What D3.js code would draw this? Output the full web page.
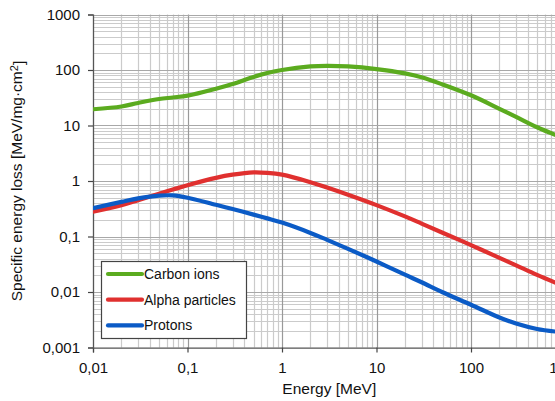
<!DOCTYPE html>
<html>
<head>
<meta charset="utf-8">
<script src="https://cdn.jsdelivr.net/npm/d3@7"></script>
<style>
  html, body { margin: 0; padding: 0; background: #fff; }
  svg { display: block; font-family: "Liberation Sans", Arial, sans-serif; }
</style>
</head>
<body>
<svg id="chart" width="555" height="401"></svg>
<script>
// ---- data ----
const energy  = [0.01, 0.02, 0.03, 0.05, 0.07, 0.1, 0.2, 0.3, 0.5, 0.7, 1, 2, 3, 5, 10, 20, 30, 50, 100, 200, 300, 500, 800];
const carbon  = [19.6, 22, 25.5, 30, 32, 34.5, 46, 56, 75, 88, 100, 116, 119, 116, 104, 87, 74, 55, 35, 20, 14.3, 9.3, 6.7];
const alpha   = [0.28, 0.365, 0.45, 0.59, 0.70, 0.84, 1.14, 1.30, 1.43, 1.40, 1.30, 0.953, 0.762, 0.566, 0.368, 0.23, 0.171, 0.117, 0.07, 0.0412, 0.0302, 0.0203, 0.0145];
const protons = [0.324, 0.42, 0.485, 0.545, 0.55, 0.5, 0.372, 0.313, 0.248, 0.212, 0.178, 0.116, 0.087, 0.06, 0.0355, 0.0205, 0.015, 0.0099, 0.0059, 0.00347, 0.00271, 0.00216, 0.00193];
const seriesNames = ["Carbon ions", "Alpha particles", "Protons"];
const seriesColors = ["#5bab1f", "#e0302f", "#0b5bc6"];
const xTickValues = [0.01, 0.1, 1, 10, 100, 1000];
const xTickLabels = ["0,01", "0,1", "1", "10", "100", "1000"];
const yTickValues = [0.001, 0.01, 0.1, 1, 10, 100, 1000];
const yTickLabels = ["0,001", "0,01", "0,1", "1", "10", "100", "1000"];
const xTitle = "Energy [MeV]";
const yTitleMain = "Specific energy loss [MeV/mg·cm";
const yTitleSup = "2";
const yTitleEnd = "]";

// ---- layout ----
const svg = d3.select("#chart");
const pL = 93, pR = 565.5, pT = 14.5, pB = 347.5;

const x = d3.scaleLog().domain([0.01, 1000]).range([pL, pR]);
const y = d3.scaleLog().domain([0.001, 1000]).range([pB, pT]);

// grid
const xMinor = x.ticks().filter(v => !xTickValues.some(t => Math.abs(t - v) / t < 1e-9));
const yMinor = y.ticks().filter(v => !yTickValues.some(t => Math.abs(t - v) / t < 1e-9));

const grid = svg.append("g");
grid.append("g").selectAll("line").data(xMinor).join("line")
  .attr("x1", d => Math.round(x(d)) + 0.5).attr("x2", d => Math.round(x(d)) + 0.5)
  .attr("y1", pT).attr("y2", pB)
  .attr("stroke", "#cbcbcb").attr("stroke-width", 1.2);
grid.append("g").selectAll("line").data(yMinor).join("line")
  .attr("y1", d => Math.round(y(d)) + 0.5).attr("y2", d => Math.round(y(d)) + 0.5)
  .attr("x1", pL).attr("x2", pR)
  .attr("stroke", "#cbcbcb").attr("stroke-width", 1.2);
grid.append("g").selectAll("line").data(xTickValues).join("line")
  .attr("x1", d => Math.round(x(d)) + 0.5).attr("x2", d => Math.round(x(d)) + 0.5)
  .attr("y1", pT).attr("y2", pB)
  .attr("stroke", "#999").attr("stroke-width", 1.2);
grid.append("g").selectAll("line").data(yTickValues).join("line")
  .attr("y1", d => Math.round(y(d)) + 0.5).attr("y2", d => Math.round(y(d)) + 0.5)
  .attr("x1", pL).attr("x2", pR)
  .attr("stroke", "#a8a8a8").attr("stroke-width", 1.2);

// axes
const xAxis = d3.axisBottom(x).tickValues(xTickValues)
  .tickFormat((d, i) => xTickLabels[i]).tickSize(5).tickPadding(6);
const yAxis = d3.axisLeft(y).tickValues(yTickValues)
  .tickFormat((d, i) => yTickLabels[i]).tickSize(5).tickPadding(8);

const gx = svg.append("g").attr("transform", `translate(0,${pB})`).call(xAxis);
const gy = svg.append("g").attr("transform", `translate(${pL},0)`).call(yAxis);
[gx, gy].forEach(g => {
  g.select(".domain").attr("stroke", "#555").attr("stroke-width", 1.2);
  g.selectAll(".tick line").attr("stroke", "#444").attr("stroke-width", 1.2);
  g.selectAll(".tick text").attr("fill", "#111").style("font-size", "15px")
    .style("font-family", '"Liberation Sans", Arial, sans-serif');
});
gx.selectAll(".tick text").attr("dy", "0.95em");

// curves
svg.append("clipPath").attr("id", "plotclip")
  .append("rect").attr("x", pL).attr("y", pT).attr("width", pR - pL).attr("height", pB - pT);
const line = d3.line().x((d, i) => x(energy[i])).y(d => y(d)).curve(d3.curveCatmullRom.alpha(0.5));
const allSeries = [carbon, alpha, protons];
svg.append("g").attr("clip-path", "url(#plotclip)")
  .selectAll("path").data(allSeries).join("path")
  .attr("d", d => line(d))
  .attr("fill", "none")
  .attr("stroke", (d, i) => seriesColors[i])
  .attr("stroke-width", 4.2)
  .attr("stroke-linecap", "round")
  .attr("stroke-linejoin", "round");

// legend
const lg = svg.append("g");
lg.append("rect").attr("x", 101.5).attr("y", 261.5).attr("width", 145).attr("height", 77)
  .attr("fill", "#fff").attr("stroke", "#444").attr("stroke-width", 1.2);
const items = lg.selectAll("g.item").data(seriesNames).join("g").attr("class", "item")
  .attr("transform", (d, i) => `translate(0,${274 + i * 25.7})`);
items.append("line").attr("x1", 108).attr("x2", 142).attr("y1", 0).attr("y2", 0)
  .attr("stroke", (d, i) => seriesColors[i]).attr("stroke-width", 4.2).attr("stroke-linecap", "round");
items.append("text").attr("x", 144).attr("y", 5).text(d => d)
  .style("font-size", "14px").attr("fill", "#111");

// titles
svg.append("text").attr("x", (pL + pR) / 2).attr("y", 394).attr("text-anchor", "middle")
  .style("font-size", "15.5px").attr("fill", "#111").text(xTitle);
const yt = svg.append("text").attr("transform", `translate(22,${(pT + pB) / 2}) rotate(-90)`)
  .attr("text-anchor", "middle").style("font-size", "15.5px").attr("fill", "#111");
yt.append("tspan").text(yTitleMain);
yt.append("tspan").attr("dy", "-0.4em").style("font-size", "11px").text(yTitleSup);
yt.append("tspan").attr("dy", "0.4em").text(yTitleEnd);
</script>
</body>
</html>
